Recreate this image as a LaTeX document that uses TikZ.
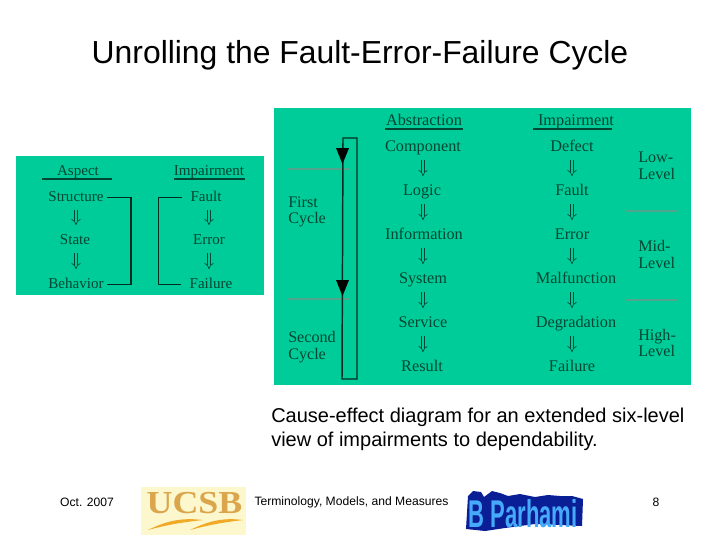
\documentclass[tikz,border=0pt]{standalone}
\usepackage{fontspec}
\usepackage{graphicx}
\setmainfont{Liberation Sans}
\newfontfamily\serifx{Liberation Serif}
\usetikzlibrary{arrows.meta}
\definecolor{panel}{RGB}{0,204,153}
\definecolor{ink}{RGB}{0,70,50}
\definecolor{inkdark}{RGB}{0,45,32}
\definecolor{rulegray}{RGB}{80,165,140}
\definecolor{logobg}{RGB}{252,247,205}
\definecolor{logogold}{RGB}{218,165,75}
\definecolor{logoorange}{RGB}{240,170,40}
\definecolor{wdark}{RGB}{10,30,150}
\definecolor{wlight}{RGB}{70,170,250}
\tikzset{
  x=0.75pt,y=-0.75pt,
  lab/.style={font=\serifx\fontsize{12.2}{12}\selectfont,text=ink,inner sep=0pt,anchor=base,text height=8pt,text depth=2.5pt},
  labs/.style={lab,font=\serifx\fontsize{11.3}{12}\selectfont},
  lab2/.style={font=\serifx\fontsize{12.1}{12.4}\selectfont,text=ink,inner sep=0pt,align=left,anchor=west},
  dbl/.style={draw=ink,line width=0.45pt,double=panel,double distance=2pt,-{Implies},shorten <=4.3pt,shorten >=6pt},
  line/.style={draw=inkdark,line width=1pt},
  hline/.style={draw=ink,line width=.8pt},
  sep/.style={draw=rulegray,line width=1pt},
  big/.style={draw=inkdark,line width=1.1pt},
  foot/.style={font=\fontsize{9.1}{10}\selectfont,text=black,inner sep=0pt}
}
\begin{document}
\begin{tikzpicture}
\useasboundingbox (0,0) rectangle (720,540);
\fill[white] (0,0) rectangle (720,540);
\node[font=\fontsize{23.9}{26}\selectfont,inner sep=0pt] (title) at (360,55) {Unrolling the Fault-Error-Failure Cycle};
% left panel
\fill[panel] (16,156) rectangle (264,295);
\node[labs] (asp) at (78,175) {Aspect};
\node[labs] (imp1) at (209,175) {Impairment};
\draw[hline] (42,179) -- (112,179);
\draw[hline] (174,179) -- (245,179);
\node[labs] (str) at (76,201) {Structure};
\node[labs] (sta) at (75,244) {State};
\node[labs] (beh) at (76,288) {Behavior};
\node[labs] (fau) at (206,201) {Fault};
\node[labs] (err) at (209,244) {Error};
\node[labs] (fai) at (211,288) {Failure};
\coordinate (lx) at (76,0);
\coordinate (rx) at (209,0);
\draw[dbl] (str.south -| lx) -- (sta.north -| lx);
\draw[dbl] (sta.south -| lx) -- (beh.north -| lx);
\draw[dbl] (fau.south -| rx) -- (err.north -| rx);
\draw[dbl] (err.south -| rx) -- (fai.north -| rx);
\coordinate (cl) at (131,0);
\coordinate (cr) at (158.5,0);
\draw[line] ([xshift=2pt]str.east) -- (str.east -| cl) -- (beh.east -| cl) -- ([xshift=2pt]beh.east);
\draw[line] ([xshift=-6pt]fau.west) -- (fau.west -| cr) -- (fai.west -| cr) -- ([xshift=-6pt]fai.west);
% right panel
\fill[panel] (274,108) rectangle (691,385);
\node[lab] (abs) at (424,125) {Abstraction};
\node[lab] (imp2) at (576,125) {Impairment};
\draw[hline] (385,129) -- (463,129);
\draw[hline] (533,129) -- (612,129);
\foreach \n/\t/\x/\y in {a1/Component/423/151,a2/Logic/422/195,a3/Information/424/239,a4/System/423/283,a5/Service/423/327,a6/Result/422/371,
 b1/Defect/572/151,b2/Fault/572/195,b3/Error/572/239,b4/Malfunction/576/283,b5/Degradation/576/327,b6/Failure/572/371}{
  \node[lab] (\n) at (\x,\y) {\t};}
\coordinate (ax) at (423,0);
\coordinate (bx) at (572,0);
\foreach \a/\b in {a1/a2,a2/a3,a3/a4,a4/a5,a5/a6}{\draw[dbl] (\a.south -| ax) -- (\b.north -| ax);}
\foreach \a/\b in {b1/b2,b2/b3,b3/b4,b4/b5,b5/b6}{\draw[dbl] (\a.south -| bx) -- (\b.north -| bx);}
\node[lab2] (c1) at (288,212) {First\\Cycle};
\node[lab2] (c2) at (288,347) {Second\\Cycle};
\node[lab2] (l1) at (638,166) {Low-\\Level};
\node[lab2] (l2) at (638,254.5) {Mid-\\Level};
\node[lab2] (l3) at (638,343) {High-\\Level};
\draw[sep] (288,169) -- (350,169);
\draw[sep] (287,299) -- (350,299);
\draw[sep] (625,211) -- (678,211);
\draw[sep] (626,300) -- (678,300);
\coordinate (tr) at (357,138);
\coordinate (tl) at (343,138);
\coordinate (br) at (357,379);
\coordinate (bl) at (342,379);
\draw[big] (tl) -- (tr) -- (br) -- (bl) -- cycle;
\fill[black] (336,148) -- (349,148) -- (342.5,164) -- cycle;
\fill[black] (336,280) -- (349,280) -- (342.5,296) -- cycle;
% caption
\node[font=\fontsize{15}{17.5}\selectfont,inner sep=0pt,align=left,anchor=north west] (cap) at (271,408) {Cause-effect diagram for an extended six-level\\view of impairments to dependability.};
% footer
\node[foot] (date) at (87,502.5) {Oct. 2007};
\node[foot] (term) at (351.5,502.5) {Terminology, Models, and Measures};
\node[foot] (pg) at (656,502.5) {8};
% UCSB logo
\fill[logobg] (141,487) rectangle (246,535);
\node[font=\serifx\bfseries\fontsize{24}{24}\selectfont,text=logogold,inner sep=0pt,anchor=base] (ucsb) at (194.5,513.5) {\scalebox{1.12}[1]{UCSB}};
\fill[logoorange] (148,530) .. controls (170,519) and (185,518) .. (203,520) .. controls (185,522) and (170,524) .. cycle;
\fill[logoorange] (190,530) .. controls (212,519) and (227,518) .. (243,520) .. controls (227,522) and (212,524) .. cycle;
% B Parhami logo
\fill[wdark] (466,529) -- (468,496) -- (473,491) -- (481,492) -- (484,497) -- (492,491) -- (500,493) -- (508,496) -- (520,494) -- (535,497) -- (548,495) -- (560,496) -- (572,496) -- (583,499) -- (582,526) -- (560,525) -- (535,524) -- (505,528) -- (485,531) -- cycle;
\node[font=\bfseries\fontsize{29}{29}\selectfont,text=wlight,inner sep=0pt] (bp) at (523,514) {\scalebox{.57}[1]{B Parhami}};
\end{tikzpicture}
\end{document}
